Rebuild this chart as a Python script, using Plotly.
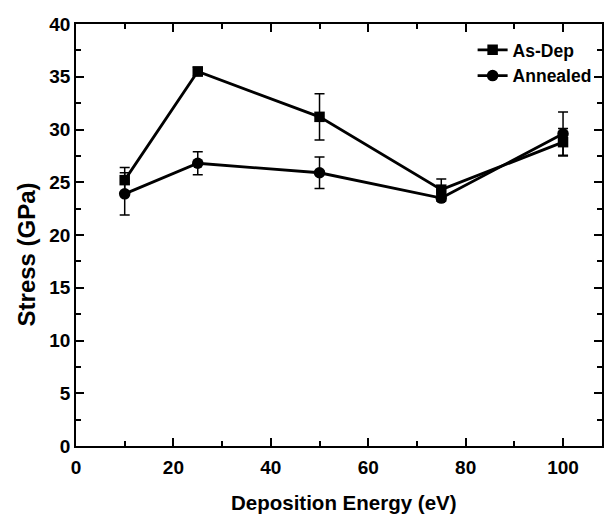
import plotly.graph_objects as go

energy = [10, 25, 50, 75, 100]
asdep_stress = [25.2, 35.5, 31.2, 24.3, 28.8]
asdep_err = [1.2, 0.4, 2.2, 1.0, 1.3]
annealed_stress = [23.9, 26.8, 25.9, 23.5, 29.6]
annealed_err = [2.0, 1.1, 1.5, 0.3, 2.05]

font_family = "Liberation Sans, Arial, sans-serif"

fig = go.Figure()
fig.add_trace(go.Scatter(
    x=energy, y=asdep_stress, name="As-Dep", mode="lines+markers",
    line=dict(color="black", width=2.8),
    marker=dict(symbol="square", size=10.5, color="black"),
    error_y=dict(type="data", array=asdep_err, visible=True,
                 color="black", thickness=1.5, width=5),
))
fig.add_trace(go.Scatter(
    x=energy, y=annealed_stress, name="Annealed", mode="lines+markers",
    line=dict(color="black", width=2.8),
    marker=dict(symbol="circle", size=11.5, color="black"),
    error_y=dict(type="data", array=annealed_err, visible=True,
                 color="black", thickness=1.5, width=5),
))

axis_common = dict(
    showline=True, linecolor="black", linewidth=1.5, mirror="ticks",
    ticks="inside", tickcolor="black", tickwidth=1.5, ticklen=8,
    showgrid=False, zeroline=False,
    tickfont=dict(family=font_family, size=19, color="black", weight="bold"),
)

fig.update_xaxes(range=[0, 108], dtick=20, tick0=0, ticklabelstandoff=3,
                 minor=dict(dtick=10, ticks="inside", ticklen=5, tickcolor="black", tickwidth=1.5),
                 **axis_common)
fig.update_yaxes(range=[0, 40], dtick=5, tick0=0,
                 minor=dict(dtick=2.5, ticks="inside", ticklen=5, tickcolor="black", tickwidth=1.5),
                 **axis_common)

fig.add_annotation(text="Deposition Energy (eV)", xref="paper", yref="paper",
                   x=(345 - 75.5) / 528.5, y=-(503 - 446.5) / 422.5,
                   showarrow=False, xanchor="center", yanchor="middle",
                   font=dict(family=font_family, size=20.5, color="black", weight="bold"))
fig.add_annotation(text="Stress (GPa)", xref="paper", yref="paper",
                   x=(26 - 75.5) / 528.5, y=(446.5 - 255) / 422.5, textangle=-90,
                   showarrow=False, xanchor="center", yanchor="middle",
                   font=dict(family=font_family, size=24, color="black", weight="bold"))

fig.update_layout(
    width=605, height=515,
    margin=dict(l=75.5, r=1, t=24, b=68.5),
    plot_bgcolor="white", paper_bgcolor="white",
    showlegend=True,
    legend=dict(x=(474 - 75.5) / 528.5, y=(446.5 - 32) / 422.5,
                xanchor="left", yanchor="top", bgcolor="rgba(0,0,0,0)",
                font=dict(family=font_family, size=17.5, color="black", weight="bold"),
                tracegroupgap=0),
)

fig.write_html("out.html")
